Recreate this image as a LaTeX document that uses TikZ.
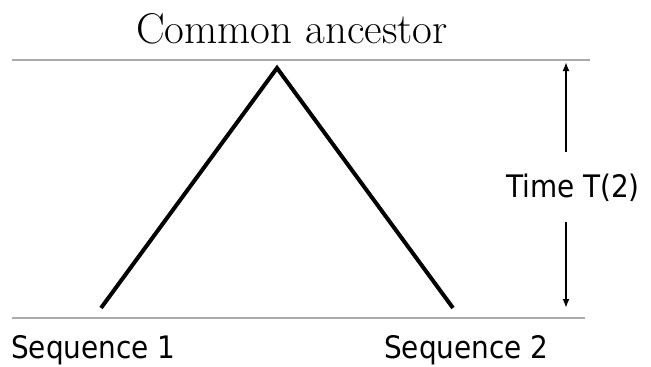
\documentclass[tikz,border=0pt]{standalone}
\usepackage{fontspec}
\newfontfamily\seqfont{DejaVu Sans Condensed}
\usetikzlibrary{arrows.meta}
\begin{document}
\begin{tikzpicture}[x=1pt,y=-1pt,
  level/.style={draw=black!33,line width=2.6pt},
  branch/.style={draw=black,line width=4pt},
  timearrow/.style={draw=black,line width=2.2pt,-{Latex[length=9pt,width=7pt]}},
  sans/.style={font=\seqfont\fontsize{31}{31}\selectfont,inner sep=0pt},
  seqlabel/.style={sans,anchor=west},
  title/.style={font=\fontsize{43}{43}\selectfont,inner sep=0pt}]
\useasboundingbox (0,0) rectangle (651,367);
% levels
\coordinate (topL) at (12,60);
\coordinate (topR) at (590,60);
\coordinate (botL) at (12,318);
\coordinate (botR) at (585,318);
\draw[level] (topL) -- (topR);
\draw[level] (botL) -- (botR);
% tree
\coordinate (apex) at (277,68);
\coordinate (leaf1) at (101,308);
\coordinate (leaf2) at (453,308);
\draw[branch] (leaf1) -- (apex) -- (leaf2);
% labels
\node[title] (anc) at (292,29) {Common ancestor};
\node[seqlabel] (s1) at (11,350) {Sequence 1};
\node[seqlabel] (s2) at (384,350) {Sequence 2};
\node[sans] (time) at (573,188) {Time T(2)};
% time arrow
\coordinate (arrTop) at (566,62);
\coordinate (arrBot) at (566,308);
\coordinate (arrTopStart) at (566,152);
\coordinate (arrBotStart) at (566,222);
\draw[timearrow] (arrTopStart) -- (arrTop);
\draw[timearrow] (arrBotStart) -- (arrBot);
\end{tikzpicture}
\end{document}
